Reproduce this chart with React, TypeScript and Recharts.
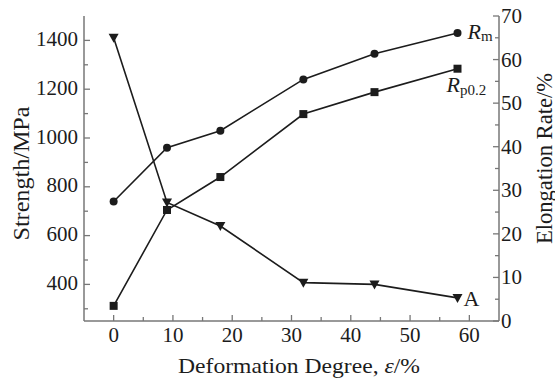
import React from 'react';
import { ComposedChart, Line, XAxis, YAxis, LabelList, Label } from 'recharts';

const deformation = [0, 9, 18, 32, 44, 58];
const rmValues = [740, 960, 1030, 1240, 1345, 1430];
const rpValues = [312, 705, 840, 1098, 1188, 1284];
const elongation = [65, 27.2, 21.8, 8.8, 8.4, 5.3];

const xTicks = [0, 5, 10, 15, 20, 25, 30, 35, 40, 45, 50, 55, 60];
const leftTicks = [300, 400, 500, 600, 700, 800, 900, 1000, 1100, 1200, 1300, 1400];
const rightTicks = [0, 5, 10, 15, 20, 25, 30, 35, 40, 45, 50, 55, 60, 65, 70];

const xTitle = 'Deformation Degree, ';
const leftTitle = 'Strength/MPa';
const rightTitle = 'Elongation Rate/%';

const data = deformation.map((d, i) => ({ eps: d, rm: rmValues[i], rp: rpValues[i], a: elongation[i] }));

const AXIS = '#777';
const INK = '#1c1c1c';
const FONT = '"Liberation Serif", "Times New Roman", serif';
const TM = 8;
const TICK_FS = 21;
const PLOT_TOP = 16;
const PLOT_H = 305;

const BottomTick = (props: any) => {
  const { x, y, payload } = props;
  const axisY = y - TM;
  const major = payload.value % 10 === 0;
  return (
    <g>
      <line x1={x} x2={x} y1={axisY} y2={axisY - (major ? 6 : 4)} stroke={AXIS} strokeWidth={1.3} />
      {major && (
        <text x={x} y={axisY + 21} textAnchor="middle" fontFamily={FONT} fontSize={TICK_FS} fill={INK}>
          {payload.value}
        </text>
      )}
    </g>
  );
};

const LeftTick = (props: any) => {
  const { x, y, payload } = props;
  const axisX = x + TM;
  const major = payload.value % 200 === 0;
  return (
    <g>
      <line x1={axisX} x2={axisX + (major ? 6 : 4)} y1={y} y2={y} stroke={AXIS} strokeWidth={1.3} />
      {major && (
        <text x={axisX - 6} y={y + 5.5} textAnchor="end" fontFamily={FONT} fontSize={TICK_FS} fill={INK}>
          {payload.value}
        </text>
      )}
    </g>
  );
};

const RightTick = (props: any) => {
  const { x, y, payload } = props;
  const axisX = x - TM;
  const major = payload.value % 10 === 0;
  return (
    <g>
      <line x1={axisX} x2={axisX - (major ? 6 : 4)} y1={y} y2={y} stroke={AXIS} strokeWidth={1.3} />
      {major && (
        <text x={axisX + 2} y={y + 7} textAnchor="start" fontFamily={FONT} fontSize={TICK_FS} fill={INK}>
          {payload.value}
        </text>
      )}
    </g>
  );
};

const CircleDot = (p: any) => <circle key={`c${p.index}`} cx={p.cx} cy={p.cy} r={4} fill={INK} />;
const SquareDot = (p: any) => <rect key={`s${p.index}`} x={p.cx - 4} y={p.cy - 4} width={8} height={8} fill={INK} />;
const TriDot = (p: any) => (
  <polygon key={`t${p.index}`} points={`${p.cx - 5},${p.cy - 4} ${p.cx + 5},${p.cy - 4} ${p.cx},${p.cy + 5}`} fill={INK} />
);

const last = deformation.length - 1;

const RmLabel = (p: any) =>
  p.index === last ? (
    <text x={p.x + 10} y={p.y + 6} fontFamily={FONT} fontSize={22} fill={INK}>
      <tspan fontStyle="italic">R</tspan>
      <tspan fontSize={15} dy={2}>m</tspan>
    </text>
  ) : null;

const RpLabel = (p: any) =>
  p.index === last ? (
    <text x={p.x - 11} y={p.y + 23} fontFamily={FONT} fontSize={22} fill={INK}>
      <tspan fontStyle="italic">R</tspan>
      <tspan fontSize={15} dy={3}>p0.2</tspan>
    </text>
  ) : null;

const ALabel = (p: any) =>
  p.index === last ? (
    <text x={p.x + 6} y={p.y + 8} fontFamily={FONT} fontSize={22} fill={INK}>
      A
    </text>
  ) : null;

const LeftTitle = () => {
  const cx = 21;
  const cy = PLOT_TOP + PLOT_H / 2 + 5;
  return (
    <text
      x={cx}
      y={cy}
      transform={`rotate(-90, ${cx}, ${cy})`}
      textAnchor="middle"
      dominantBaseline="central"
      fontFamily={FONT}
      fontSize={24}
      textLength={134}
      lengthAdjust="spacingAndGlyphs"
      fill={INK}
    >
      {leftTitle}
    </text>
  );
};

const RightTitle = () => {
  const cx = 544;
  const cy = PLOT_TOP + PLOT_H / 2 - 10;
  return (
    <text
      x={cx}
      y={cy}
      transform={`rotate(-90, ${cx}, ${cy})`}
      textAnchor="middle"
      dominantBaseline="central"
      fontFamily={FONT}
      fontSize={22.5}
      textLength={171}
      lengthAdjust="spacingAndGlyphs"
      fill={INK}
    >
      {rightTitle}
    </text>
  );
};

const BottomTitle = (p: any) => {
  const vb = p.viewBox;
  const cx = 299;
  const cy = vb.y + 52;
  return (
    <text x={cx} y={cy} textAnchor="middle" fontFamily={FONT} fontSize={22} textLength={242} lengthAdjust="spacingAndGlyphs" fill={INK}>
      {xTitle}
      <tspan fontStyle="italic">ε</tspan>/%
    </text>
  );
};

export default function App() {
  return (
    <div style={{ position: 'absolute', left: 0, top: 0, width: 555, height: 378, background: '#fff' }}>
      <ComposedChart width={555} height={378} data={data} margin={{ top: PLOT_TOP, right: 0, bottom: 0, left: 0 }}>
        <XAxis
          xAxisId="top"
          orientation="top"
          dataKey="eps"
          type="number"
          domain={[-5, 65]}
          height={0}
          tick={false}
          tickLine={false}
          axisLine={{ stroke: AXIS, strokeWidth: 1.5 }}
        />
        <XAxis
          dataKey="eps"
          type="number"
          domain={[-5, 65]}
          ticks={xTicks}
          interval={0}
          height={57}
          tickSize={0}
          tickMargin={TM}
          tickLine={false}
          tick={BottomTick}
          axisLine={{ stroke: AXIS, strokeWidth: 1.5 }}
        >
          <Label content={BottomTitle} />
        </XAxis>
        <YAxis
          yAxisId="left"
          orientation="left"
          type="number"
          domain={[250, 1500]}
          ticks={leftTicks}
          interval={0}
          width={84}
          tickSize={0}
          tickMargin={TM}
          tickLine={false}
          tick={LeftTick}
          axisLine={{ stroke: AXIS, strokeWidth: 1.5 }}
        >
          <Label content={LeftTitle} />
        </YAxis>
        <YAxis
          yAxisId="right"
          orientation="right"
          type="number"
          domain={[0, 70]}
          ticks={rightTicks}
          interval={0}
          width={56}
          tickSize={0}
          tickMargin={TM}
          tickLine={false}
          tick={RightTick}
          axisLine={{ stroke: AXIS, strokeWidth: 1.5 }}
        >
          <Label content={RightTitle} />
        </YAxis>
        <Line yAxisId="left" type="linear" dataKey="rm" stroke={INK} strokeWidth={1.6} dot={CircleDot} activeDot={false} isAnimationActive={false}>
          <LabelList dataKey="rm" content={RmLabel} />
        </Line>
        <Line yAxisId="left" type="linear" dataKey="rp" stroke={INK} strokeWidth={1.6} dot={SquareDot} activeDot={false} isAnimationActive={false}>
          <LabelList dataKey="rp" content={RpLabel} />
        </Line>
        <Line yAxisId="right" type="linear" dataKey="a" stroke={INK} strokeWidth={1.6} dot={TriDot} activeDot={false} isAnimationActive={false}>
          <LabelList dataKey="a" content={ALabel} />
        </Line>
      </ComposedChart>
    </div>
  );
}
